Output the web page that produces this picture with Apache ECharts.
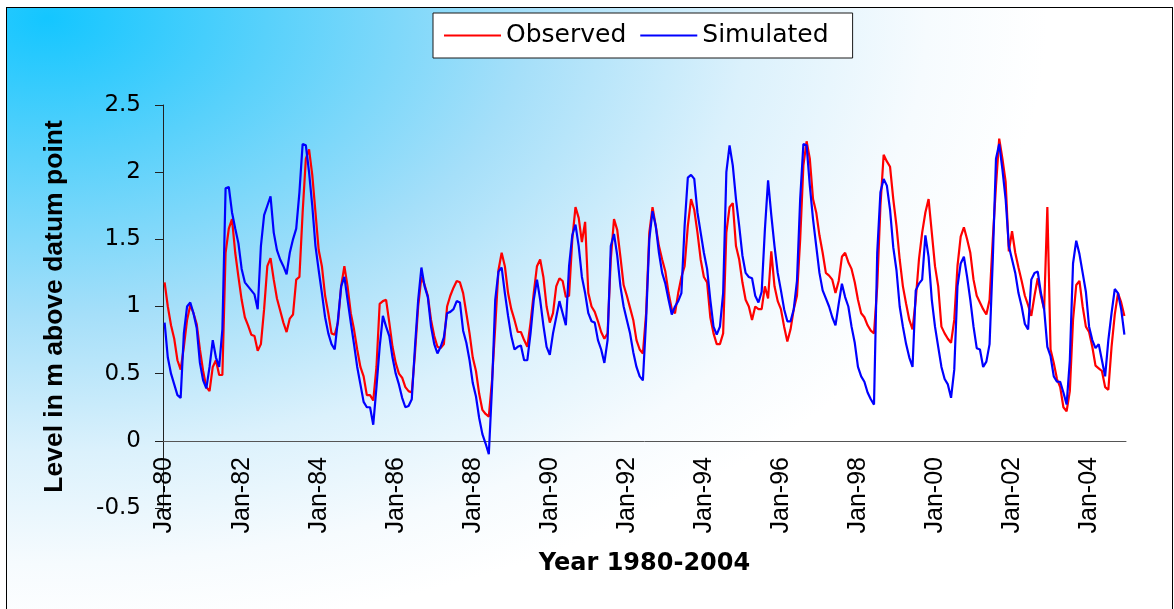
<!DOCTYPE html>
<html>
<head>
<meta charset="utf-8">
<script src="https://cdn.jsdelivr.net/npm/echarts@6/dist/echarts.min.js"></script>
<style>
html,body{margin:0;padding:0;background:#fff;}
#wrap{position:relative;width:1174px;height:609px;overflow:hidden;background:#fff;}
#bg{position:absolute;left:6px;top:7px;width:1165px;height:640px;border:1px solid #000;
 background:radial-gradient(ellipse 1000px 620px at 40px 10px,#14c6ff 0%,#58d1fb 22%,#a5dff9 48%,#dbf1fc 70%,#f6fbfe 88%,#ffffff 100%);}
#chart{position:absolute;left:0;top:0;width:1174px;height:609px;}
</style>
</head>
<body>
<div id="wrap"><div id="bg"></div><div id="chart"></div></div>
<script>
// Monthly levels (m above datum), Jan 1980 - Dec 2004, one row per year
const observed1980_84 = [
  1.18, 1.00, 0.86, 0.76, 0.60, 0.53, 0.70, 0.90, 1.01, 0.95, 0.87, 0.68,
  0.52, 0.40, 0.37, 0.55, 0.60, 0.49, 0.49, 1.40, 1.58, 1.65, 1.40, 1.22,
  1.05, 0.92, 0.86, 0.79, 0.78, 0.67, 0.72, 0.98, 1.30, 1.36, 1.20, 1.06,
  0.97, 0.88, 0.81, 0.91, 0.94, 1.20, 1.22, 1.70, 2.10, 2.17, 1.98, 1.70,
  1.42, 1.30, 1.08, 0.95, 0.80, 0.79, 0.88, 1.15, 1.30, 1.15, 0.95, 0.83
];
const observed1985_89 = [
  0.68, 0.55, 0.48, 0.34, 0.34, 0.30, 0.55, 1.02, 1.04, 1.05, 0.88, 0.70,
  0.58, 0.50, 0.47, 0.40, 0.37, 0.36, 0.65, 1.00, 1.22, 1.16, 1.08, 0.90,
  0.78, 0.70, 0.69, 0.72, 1.00, 1.08, 1.14, 1.19, 1.18, 1.10, 0.95, 0.80,
  0.62, 0.52, 0.35, 0.23, 0.20, 0.18, 0.45, 0.85, 1.27, 1.40, 1.30, 1.10,
  0.98, 0.90, 0.81, 0.81, 0.75, 0.70, 0.88, 1.10, 1.30, 1.35, 1.22, 1.00
];
const observed1990_94 = [
  0.88, 0.95, 1.15, 1.21, 1.19, 1.07, 1.08, 1.50, 1.74, 1.66, 1.48, 1.63,
  1.10, 1.00, 0.96, 0.89, 0.81, 0.76, 0.80, 1.35, 1.65, 1.57, 1.37, 1.16,
  1.08, 0.99, 0.90, 0.75, 0.68, 0.65, 0.95, 1.55, 1.74, 1.60, 1.45, 1.35,
  1.26, 1.10, 0.98, 0.95, 1.10, 1.22, 1.30, 1.60, 1.80, 1.72, 1.55, 1.35,
  1.22, 1.18, 0.92, 0.80, 0.72, 0.72, 0.80, 1.55, 1.74, 1.77, 1.45, 1.35
];
const observed1995_99 = [
  1.18, 1.05, 1.00, 0.90, 1.00, 0.98, 0.98, 1.15, 1.06, 1.41, 1.15, 1.04,
  0.98, 0.85, 0.74, 0.83, 0.98, 1.08, 1.50, 2.05, 2.23, 2.10, 1.80, 1.70,
  1.53, 1.40, 1.25, 1.23, 1.20, 1.10, 1.19, 1.37, 1.40, 1.33, 1.28, 1.18,
  1.05, 0.95, 0.92, 0.86, 0.82, 0.80, 1.15, 1.75, 2.13, 2.08, 2.04, 1.80,
  1.60, 1.35, 1.15, 1.02, 0.90, 0.83, 1.05, 1.35, 1.55, 1.70, 1.80, 1.55
];
const observed2000_04 = [
  1.30, 1.15, 0.85, 0.80, 0.76, 0.73, 0.90, 1.30, 1.52, 1.59, 1.50, 1.40,
  1.20, 1.08, 1.03, 0.98, 0.94, 1.05, 1.50, 1.90, 2.25, 2.10, 1.93, 1.41,
  1.56, 1.40, 1.29, 1.19, 1.08, 1.01, 0.93, 1.08, 1.21, 1.08, 0.98, 1.74,
  0.68, 0.58, 0.46, 0.40, 0.25, 0.22, 0.37, 0.90, 1.16, 1.19, 1.00, 0.85,
  0.81, 0.70, 0.56, 0.54, 0.52, 0.40, 0.38, 0.70, 0.94, 1.10, 1.03, 0.93
];

const simulated1980_84 = [
  0.88, 0.62, 0.50, 0.42, 0.34, 0.32, 0.80, 1.00, 1.03, 0.95, 0.84, 0.58,
  0.45, 0.39, 0.55, 0.75, 0.62, 0.55, 0.83, 1.88, 1.89, 1.70, 1.58, 1.47,
  1.28, 1.18, 1.15, 1.12, 1.09, 0.98, 1.45, 1.68, 1.75, 1.82, 1.55, 1.42,
  1.35, 1.30, 1.24, 1.40, 1.50, 1.58, 1.85, 2.21, 2.20, 2.00, 1.75, 1.45,
  1.27, 1.10, 0.92, 0.80, 0.72, 0.68, 0.90, 1.15, 1.22, 1.05, 0.88, 0.72
];
const simulated1985_89 = [
  0.55, 0.42, 0.29, 0.25, 0.25, 0.12, 0.40, 0.70, 0.93, 0.85, 0.78, 0.62,
  0.50, 0.42, 0.32, 0.25, 0.26, 0.31, 0.70, 1.05, 1.29, 1.15, 1.07, 0.85,
  0.72, 0.65, 0.70, 0.77, 0.95, 0.96, 0.98, 1.04, 1.03, 0.82, 0.73, 0.60,
  0.43, 0.33, 0.17, 0.05, -0.02, -0.10, 0.40, 1.05, 1.26, 1.29, 1.10, 0.93,
  0.78, 0.68, 0.70, 0.71, 0.60, 0.60, 0.80, 1.05, 1.20, 1.05, 0.86, 0.70
];
const simulated1990_94 = [
  0.64, 0.80, 0.92, 1.04, 0.95, 0.86, 1.30, 1.53, 1.61, 1.45, 1.22, 1.10,
  0.95, 0.89, 0.88, 0.75, 0.68, 0.58, 0.75, 1.45, 1.54, 1.38, 1.15, 1.00,
  0.90, 0.80, 0.66, 0.55, 0.48, 0.45, 0.90, 1.50, 1.71, 1.60, 1.40, 1.25,
  1.17, 1.05, 0.94, 1.00, 1.04, 1.10, 1.60, 1.96, 1.98, 1.95, 1.70, 1.55,
  1.40, 1.28, 1.05, 0.85, 0.79, 0.85, 1.10, 2.00, 2.20, 2.05, 1.80, 1.60
];
const simulated1995_99 = [
  1.38, 1.25, 1.22, 1.21, 1.08, 1.03, 1.11, 1.57, 1.94, 1.68, 1.45, 1.25,
  1.12, 0.98, 0.89, 0.89, 0.98, 1.19, 1.80, 2.21, 2.20, 1.90, 1.65, 1.45,
  1.25, 1.12, 1.06, 1.00, 0.92, 0.86, 1.02, 1.17, 1.07, 1.00, 0.85, 0.73,
  0.55, 0.48, 0.44, 0.36, 0.31, 0.27, 1.40, 1.85, 1.95, 1.90, 1.72, 1.44,
  1.27, 1.00, 0.85, 0.72, 0.62, 0.55, 1.12, 1.17, 1.20, 1.53, 1.37, 1.05
];
const simulated2000_04 = [
  0.85, 0.70, 0.55, 0.46, 0.42, 0.32, 0.53, 1.15, 1.32, 1.37, 1.22, 1.05,
  0.85, 0.69, 0.68, 0.55, 0.59, 0.72, 1.35, 2.10, 2.21, 2.02, 1.80, 1.45,
  1.35, 1.25, 1.10, 1.00, 0.87, 0.83, 1.20, 1.25, 1.26, 1.10, 0.98, 0.70,
  0.63, 0.48, 0.44, 0.44, 0.36, 0.27, 0.60, 1.32, 1.49, 1.39, 1.25, 1.11,
  0.85, 0.75, 0.69, 0.72, 0.60, 0.48, 0.75, 0.95, 1.13, 1.10, 0.98, 0.79
];

const monthNames = ['Jan','Feb','Mar','Apr','May','Jun','Jul','Aug','Sep','Oct','Nov','Dec'];
const years = [80,81,82,83,84,85,86,87,88,89,90,91,92,93,94,95,96,97,98,99,0,1,2,3,4];
const xTickLabels = ['Jan-80','Jan-82','Jan-84','Jan-86','Jan-88','Jan-90','Jan-92',
                     'Jan-94','Jan-96','Jan-98','Jan-00','Jan-02','Jan-04'];

const categories = [];
years.forEach(y => monthNames.forEach(m => categories.push(m + '-' + String(y).padStart(2,'0'))));

const observed = [].concat(observed1980_84, observed1985_89, observed1990_94, observed1995_99, observed2000_04);
const simulated = [].concat(simulated1980_84, simulated1985_89, simulated1990_94, simulated1995_99, simulated2000_04);

const chart = echarts.init(document.getElementById('chart'), null, {renderer:'canvas'});
chart.setOption({
  animation: false,
  backgroundColor: 'transparent',
  textStyle: {fontFamily: 'DejaVu Sans'},
  legend: {
    left: 433, top: 13,
    padding: [10, 24, 10, 11],
    backgroundColor: '#ffffff',
    borderColor: '#1a1a1a', borderWidth: 1,
    itemWidth: 57, itemHeight: 2, itemGap: 14,
    icon: 'rect',
    textStyle: {fontSize: 25, color: '#000', fontFamily: 'DejaVu Sans'},
    data: ['Observed', 'Simulated']
  },
  grid: {left: 163, right: 48, top: 105, bottom: 101, containLabel: false, outerBoundsMode: 'none'},
  xAxis: {
    type: 'category',
    data: categories,
    boundaryGap: true,
    offset: -67,
    name: 'Year 1980-2004',
    nameLocation: 'middle',
    nameGap: 111,
    nameTextStyle: {fontSize: 24, fontWeight: 'bold', fontFamily: 'DejaVu Sans', color: '#000'},
    axisLine: {onZero: false, lineStyle: {color: '#555', width: 1}},
    axisTick: {interval: 23, length: 7, lineStyle: {color: '#555'}},
    axisLabel: {
      interval: 23, rotate: 90, margin: 16, fontSize: 25,
      fontFamily: 'Liberation Sans', color: '#000',
      formatter: v => xTickLabels.includes(v) ? v : ''
    },
    splitLine: {show: false}
  },
  yAxis: {
    type: 'value',
    min: -0.5, max: 2.5, interval: 0.5,
    name: 'Level in m above datum point',
    nameLocation: 'middle',
    nameRotate: 90,
    nameGap: 95,
    nameTextStyle: {fontSize: 26.5, fontWeight: 'bold', fontFamily: 'Liberation Sans', color: '#000'},
    axisLine: {show: true, lineStyle: {color: '#222'}},
    axisTick: {show: true, length: 8, lineStyle: {color: '#222'}},
    axisLabel: {fontSize: 23, margin: 22, color: '#000', fontFamily: 'DejaVu Sans'},
    splitLine: {show: false}
  },
  series: [
    {name: 'Observed', type: 'line', data: observed, showSymbol: false,
     lineStyle: {color: '#ff0000', width: 2.2}, itemStyle: {color: '#ff0000'}},
    {name: 'Simulated', type: 'line', data: simulated, showSymbol: false,
     lineStyle: {color: '#0000ff', width: 2.2}, itemStyle: {color: '#0000ff'}}
  ]
});
</script>
</body>
</html>
